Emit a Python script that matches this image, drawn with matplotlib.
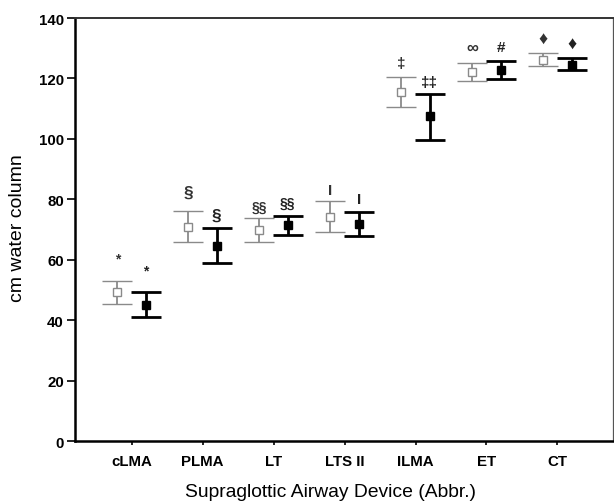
import numpy as np
import matplotlib.pyplot as plt

# data
devices = ['cLMA', 'PLMA', 'LT', 'LTS II', 'ILMA', 'ET', 'CT']
gray_mean = [49.2, 70.9, 69.8, 74.0, 115.4, 122.0, 126.1]
gray_hi = [52.9, 76.1, 73.8, 79.5, 120.4, 125.1, 128.4]
gray_lo = [45.3, 65.8, 65.8, 69.1, 110.6, 119.1, 124.0]
black_mean = [45.0, 64.4, 71.5, 71.8, 107.5, 122.9, 124.6]
black_hi = [49.2, 70.5, 74.6, 75.7, 114.9, 125.7, 126.9]
black_lo = [41.1, 58.9, 68.2, 67.8, 99.7, 119.8, 122.8]
gray_sig = ['*', '§', '§§', 'I', '‡', '∞', '♦']
gray_sig_y = [60.5, 82.4, 77.4, 83.1, 125.0, 130.3, 133.4]
black_sig = ['*', '§', '§§', 'I', '‡‡', '#', '♦']
black_sig_y = [56.6, 74.8, 78.8, 80.1, 118.7, 130.3, 131.6]

# glyph sizes so the symbols look like the printed ones
sig_size = {'*': 10, '§': 12.5, '§§': 10, 'I': 11, '‡': 11, '‡‡': 11,
            '∞': 12, '#': 11, '♦': 13}

plt.rcParams['font.family'] = ['Liberation Sans', 'DejaVu Sans']

fig = plt.figure(figsize=(6.14, 5.02), dpi=100)
ax = fig.add_axes([0.122, 0.1195, 0.876, 0.8425])

x = np.arange(1, len(devices) + 1)
off = 0.2
gcol = '#8a8a8a'

gm = np.array(gray_mean)
bm = np.array(black_mean)
gerr = [gm - np.array(gray_lo), np.array(gray_hi) - gm]
berr = [bm - np.array(black_lo), np.array(black_hi) - bm]

ax.errorbar(x - off, gm, yerr=gerr, fmt='s', color=gcol, mfc='white', mec=gcol,
            ms=5.5, mew=1.0, elinewidth=1.3, capsize=10.5, capthick=1.3)
ax.errorbar(x + off, bm, yerr=berr, fmt='s', color='black', mfc='black', mec='black',
            ms=5.5, elinewidth=2.0, capsize=10.5, capthick=2.0)

for xi, s, y in zip(x - off, gray_sig, gray_sig_y):
    ax.text(xi, y, s, ha='center', va='center', fontsize=sig_size[s],
            color='#333333', fontweight='bold')
for xi, s, y in zip(x + off, black_sig, black_sig_y):
    ax.text(xi, y, s, ha='center', va='center', fontsize=sig_size[s],
            color='#222222', fontweight='bold')

ax.set_xlim(0.2, 7.78)
ax.set_ylim(0, 140)
ax.set_yticks(range(0, 141, 20))
ax.set_xticks(x)
ax.set_xticklabels(devices)
for lab in ax.get_xticklabels() + ax.get_yticklabels():
    lab.set_fontweight('bold')
    lab.set_fontsize(10.8)

ax.tick_params(axis='y', direction='out', length=6, width=1.2, pad=2)
ax.tick_params(axis='x', direction='out', length=3, width=1.2, pad=6)

ax.spines['left'].set_linewidth(1.8)
ax.spines['bottom'].set_linewidth(1.8)
ax.spines['top'].set_linewidth(1.4)
ax.spines['top'].set_color('#333333')
ax.spines['right'].set_linewidth(0.9)
ax.spines['right'].set_color('#555555')

ax.set_ylabel('cm water column', fontsize=14, va='center')
ax.yaxis.set_label_coords(-0.106, 0.506)
ax.set_xlabel('Supraglottic Airway Device (Abbr.)', fontsize=13.9, va='center')
ax.xaxis.set_label_coords(0.476, -0.119)

fig.savefig('out.png', dpi=100)
